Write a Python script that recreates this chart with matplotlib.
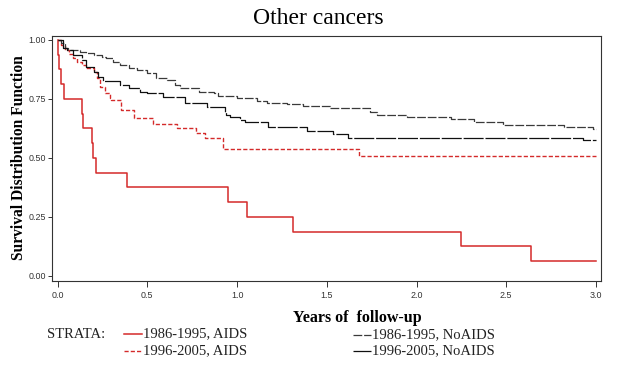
import matplotlib
matplotlib.use("Agg")
import matplotlib.pyplot as plt
from matplotlib.lines import Line2D

# Kaplan-Meier step data (years, survival)
t_aids_8695 = [0, 0.002, 0.007, 0.017, 0.035, 0.134, 0.143, 0.189, 0.198, 0.213,
               0.385, 0.948, 1.053, 1.313, 2.25, 2.64, 3.0]
s_aids_8695 = [1, 0.9375, 0.875, 0.8125, 0.75, 0.6875, 0.625, 0.5625, 0.5, 0.4375,
               0.375, 0.3125, 0.25, 0.1875, 0.125, 0.0625, 0.0625]

t_aids_9605 = [0, 0.02, 0.04, 0.065, 0.087, 0.11, 0.134, 0.16, 0.2, 0.217, 0.236,
               0.264, 0.29, 0.30, 0.352, 0.425, 0.533, 0.663, 0.77, 0.82, 0.92, 1.68, 3.0]
s_aids_9605 = [1, 0.979, 0.958, 0.94, 0.922, 0.908, 0.894, 0.88, 0.866, 0.838, 0.80,
               0.774, 0.753, 0.746, 0.703, 0.67, 0.646, 0.628, 0.607, 0.583, 0.537, 0.508, 0.508]

t_noaids_8695 = [0, 0.02, 0.04, 0.06, 0.124, 0.16, 0.2, 0.245, 0.27, 0.31, 0.347, 0.40,
                 0.44, 0.496, 0.55, 0.607, 0.654, 0.68, 0.79, 0.87, 0.895, 1.0, 1.11,
                 1.165, 1.276, 1.37, 1.52, 1.74, 1.78, 1.945, 2.19, 2.32, 2.48, 2.82,
                 2.985, 3.0]
s_noaids_8695 = [1, 0.986, 0.965, 0.958, 0.95, 0.944, 0.936, 0.929, 0.922, 0.908, 0.894,
                 0.88, 0.873, 0.859, 0.838, 0.83, 0.809, 0.795, 0.781, 0.774, 0.763,
                 0.753, 0.743, 0.734, 0.729, 0.72, 0.711, 0.696, 0.682, 0.672, 0.664,
                 0.654, 0.64, 0.633, 0.623, 0.623]

t_noaids_9605 = [0, 0.03, 0.05, 0.087, 0.134, 0.16, 0.2, 0.226, 0.254, 0.347, 0.40,
                 0.46, 0.496, 0.59, 0.71, 0.83, 0.93, 0.94, 0.96, 1.016, 1.044, 1.174,
                 1.388, 1.536, 1.62, 2.93, 3.0]
s_noaids_9605 = [1, 0.965, 0.958, 0.936, 0.915, 0.887, 0.866, 0.845, 0.826, 0.809, 0.795,
                 0.781, 0.774, 0.76, 0.732, 0.717, 0.696, 0.682, 0.675, 0.661, 0.651,
                 0.633, 0.614, 0.60, 0.586, 0.576, 0.576]

x_ticks = [0.0, 0.5, 1.0, 1.5, 2.0, 2.5, 3.0]
y_ticks = [0.0, 0.25, 0.5, 0.75, 1.0]
labels = ["1986-1995, AIDS", "1996-2005, AIDS", "1986-1995, NoAIDS", "1996-2005, NoAIDS"]

red = "#d42a2a"
styles = [
    dict(color=red, lw=1.1, ls="-"),
    dict(color=red, lw=1.0, ls=(0, (3, 1.5))),
    dict(color="#3a3a3a", lw=0.9, ls=(0, (7, 1.5))),
    dict(color="#101010", lw=0.9, ls=(0, (16, 1.5))),
]
series = [(t_aids_8695, s_aids_8695), (t_aids_9605, s_aids_9605),
          (t_noaids_8695, s_noaids_8695), (t_noaids_9605, s_noaids_9605)]

fig = plt.figure(figsize=(6.17, 3.65), dpi=100)
W, H = 617, 365
ax = fig.add_axes([51.7 / W, 1 - 280.7 / H, (601 - 51.7) / W, (280.7 - 35.7) / H])

for (t, s), st in zip(series, styles):
    ax.step(t, s, where="post", **st)

ax.set_xlim(-0.033, 3.028)
ax.set_ylim(-0.02, 1.018)
ax.set_xticks(x_ticks)
ax.set_xticklabels([f"{v:.1f}" for v in x_ticks])
ax.set_yticks(y_ticks)
ax.set_yticklabels([f"{v:.2f}" for v in y_ticks])
ax.tick_params(axis="x", length=4.5, width=0.7, pad=3, labelsize=6.4, colors="#333333")
ax.tick_params(axis="y", length=3, width=0.7, pad=1, labelsize=6.4, colors="#333333")
for lab in ax.get_xticklabels() + ax.get_yticklabels():
    lab.set_fontfamily("Liberation Sans")
for sp in ax.spines.values():
    sp.set_linewidth(0.8)
    sp.set_color("#333333")

serif = "Liberation Serif"
fig.text(318 / W, 1 - 19 / H, "Other cancers", family=serif, fontsize=17,
         ha="center", va="center")
fig.text(19 / W, 1 - 158 / H, "Survival Distribution Function", family=serif,
         fontsize=11.2, weight="bold", rotation=90, ha="center", va="center")
fig.text(357 / W, 1 - 318 / H, "Years of  follow-up", family=serif, fontsize=11.5,
         weight="bold", ha="center", va="center")

# legend drawn by hand, laid out like the SAS output
fig.text(47 / W, 1 - 334 / H, "STRATA:", family=serif, fontsize=10.5,
         ha="left", va="center", color="#222222")
pos = [(124, 334), (124, 351), (353, 335), (353, 351)]
for (x0, y0), st, lab in zip(pos, styles, labels):
    fig.add_artist(Line2D([x0 / W, (x0 + 18) / W], [1 - y0 / H, 1 - y0 / H],
                          transform=fig.transFigure, **st))
    fig.text((x0 + 19) / W, 1 - y0 / H, lab, family=serif, fontsize=10.5,
             ha="left", va="center", color="#222222")

fig.savefig("out.png", dpi=100)
